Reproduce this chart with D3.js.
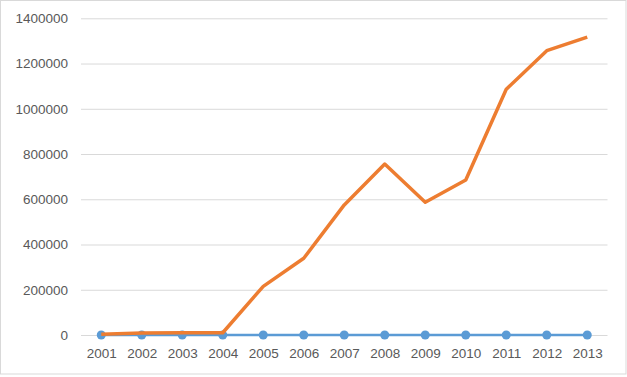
<!DOCTYPE html>
<html><head><meta charset="utf-8">
<script src="https://cdn.jsdelivr.net/npm/d3@7"></script>
<style>html,body{margin:0;padding:0;background:#fff;}svg{display:block;}</style>
</head><body>
<svg id="chart" width="627" height="377"></svg>
<script>
const years = ["2001","2002","2003","2004","2005","2006","2007","2008","2009","2010","2011","2012","2013"];
const seriesBlue = [0,0,0,0,0,0,0,0,0,0,0,0,0];
const seriesOrange = [3000,9000,9500,10000,215000,339000,575000,756000,587000,685000,1086000,1257000,1317000];
const yTicks = [0,200000,400000,600000,800000,1000000,1200000,1400000];

const svg = d3.select("#chart");
svg.append("rect").attr("x",0.5).attr("y",0.5).attr("width",625.5).attr("height",373.5)
  .attr("fill","#fff").attr("stroke","#d9d9d9");

const x = d3.scalePoint().domain(years).range([81,607.5]).padding(0.5);
const y = d3.scaleLinear().domain([0,1400000]).range([335,18.3]);

const font = "'Liberation Sans', Arial, sans-serif";
const yAxis = svg.append("g").attr("transform","translate(81,0)")
  .call(d3.axisLeft(y).tickValues(yTicks).tickSize(-526.5).tickFormat(d3.format("d")).tickPadding(13));
yAxis.select(".domain").remove();
yAxis.selectAll(".tick line").attr("stroke","#d9d9d9").attr("stroke-width",1);
yAxis.selectAll(".tick text").attr("fill","#595959").style("font-family",font).style("font-size","13.5px");

const xAxis = svg.append("g").attr("transform","translate(0,335)")
  .call(d3.axisBottom(x).tickSize(0).tickPadding(13));
xAxis.select(".domain").remove();
xAxis.selectAll(".tick text").attr("fill","#595959").style("font-family",font).style("font-size","13.5px");

const line = d3.line().x((d,i)=>x(years[i])).y(d=>y(d));
svg.append("path").datum(seriesBlue).attr("d",line).attr("fill","none")
  .attr("stroke","#5b9bd5").attr("stroke-width",2.5);
svg.selectAll("circle.b").data(seriesBlue).enter().append("circle")
  .attr("cx",(d,i)=>x(years[i])).attr("cy",d=>y(d)).attr("r",4.5).attr("fill","#5b9bd5");
svg.append("path").datum(seriesOrange).attr("d",line).attr("fill","none")
  .attr("stroke","#ed7d31").attr("stroke-width",3.5).attr("stroke-linejoin","round");
</script>
</body></html>
